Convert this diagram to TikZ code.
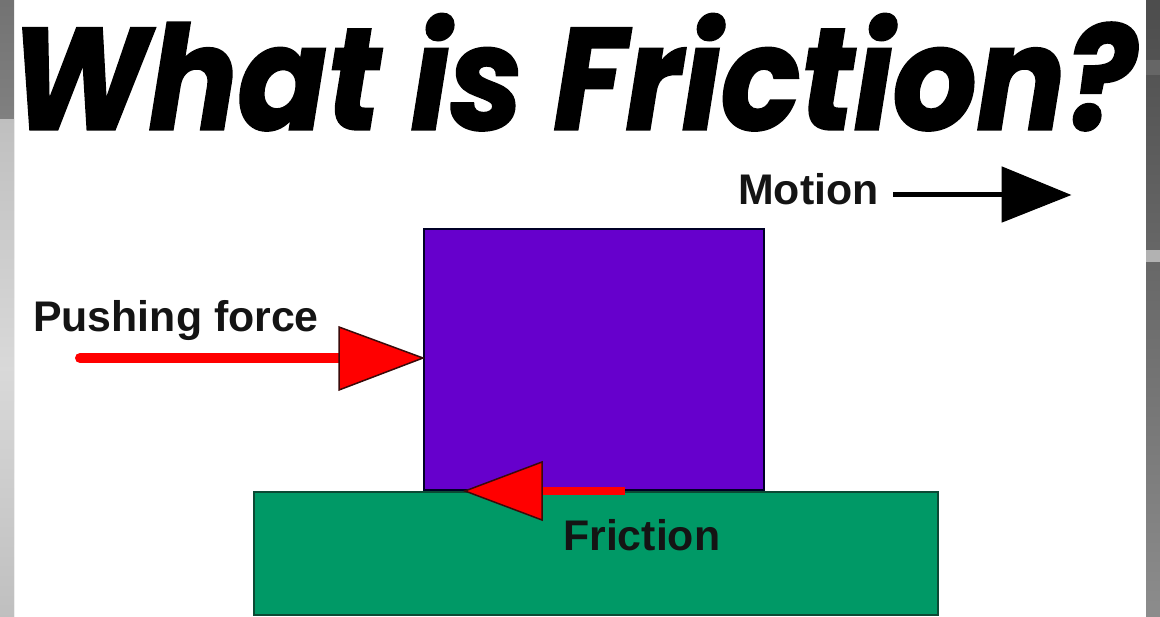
\documentclass[tikz,border=0pt]{standalone}
\usepackage{fontspec}
\setmainfont{Liberation Sans}
\newfontfamily\titlefont{Poppins}[BoldItalicFeatures={FakeBold=1.5}]
\usetikzlibrary{calc}
\definecolor{blockpurple}{HTML}{6600CC}
\definecolor{groundgreen}{HTML}{009966}
\definecolor{groundedge}{HTML}{0B4A34}
\definecolor{forcered}{HTML}{FF0000}
\definecolor{tipedge}{HTML}{3A0A0A}
\tikzset{
  lbl/.style={font=\bfseries\fontsize{43}{43}\selectfont, inner sep=0pt, text=black!92},
  redshaft/.style={draw=forcered, line width=10bp, line cap=round},
  redhead/.style={fill=forcered, draw=tipedge, line width=1.5bp, line join=miter},
  blackhead/.style={fill=black, draw=black, line width=1bp},
}
\begin{document}
\begin{tikzpicture}[x=1bp,y=-1bp]
\useasboundingbox (0,0) rectangle (1160,617);
\fill[white] (0,0) rectangle (1160,617);
% textured grey side strips
\shade[top color=black!55, bottom color=black!28] (0,0) rectangle (14,617);
\shade[top color=black!25, bottom color=black!25, middle color=black!15] (0,120) rectangle (14,617);
\shade[top color=black!70, bottom color=black!45] (1146,0) rectangle (1160,617);
\fill[black!30] (1146,250) rectangle (1160,262);
\fill[black!60] (1146,60) rectangle (1160,75);
% title
\node[inner sep=0pt, anchor=south west] (title) at (10,131)
  {\resizebox{1126bp}{116bp}{\titlefont\bfseries\itshape What is Friction?}};
% ground and block
\node[draw=groundedge, line width=2bp, fill=groundgreen, minimum width=684bp, minimum height=123bp,
  inner sep=0pt, anchor=north west] (ground) at (253,491) {};
\node[draw=black!85!blue, line width=2bp, fill=blockpurple, minimum width=340bp, minimum height=261bp,
  inner sep=0pt, anchor=south west] (block) at (423,491) {};
% labels
\node[lbl, anchor=base west] (pushlbl) at (33,332) {Pushing force};
\node[lbl, anchor=base west] (motionlbl) at (738,205) {Motion};
\node[lbl, anchor=base west] (fricklbl) at (563,550) {Friction};
% pushing force arrow
\coordinate (pushstart) at (80,358);
\coordinate (pushtip) at (block.west |- pushstart);
\draw[redshaft] (pushstart) -- ([xshift=-84bp]pushtip);
\draw[redhead] ([xshift=-84bp,yshift=31bp]pushtip) -- (pushtip) -- ([xshift=-84bp,yshift=-32bp]pushtip) -- cycle;
% friction arrow
\coordinate (fricstart) at (625,491);
\coordinate (frictip) at (465,491);
\draw[redshaft, line width=8bp, line cap=butt] (fricstart) -- ([xshift=77bp]frictip);
\draw[redhead] ([xshift=77bp,yshift=29bp]frictip) -- (frictip) -- ([xshift=77bp,yshift=-29bp]frictip) -- cycle;
% motion arrow
\coordinate (motionstart) at (893,195);
\coordinate (motiontip) at (1070,195);
\draw[line width=5bp] (motionstart) -- ([xshift=-68bp]motiontip);
\draw[blackhead] ([xshift=-68bp,yshift=28bp]motiontip) -- (motiontip) -- ([xshift=-68bp,yshift=-27bp]motiontip) -- cycle;
\end{tikzpicture}
\end{document}
